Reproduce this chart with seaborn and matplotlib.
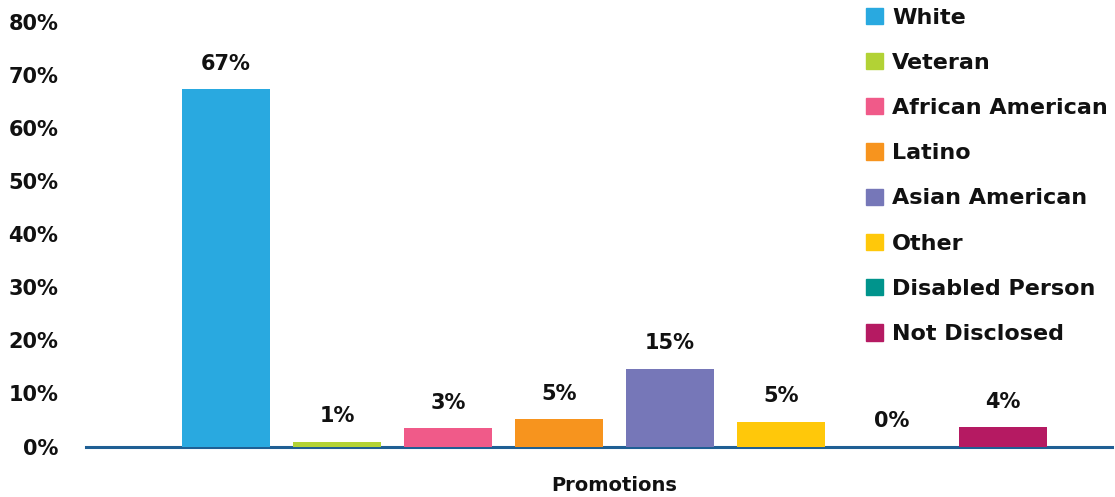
import matplotlib
matplotlib.use("Agg")
import matplotlib.pyplot as plt
import matplotlib.patches as mpatches
import seaborn as sns
import pandas as pd

# Share of promotions by group (percent)
groups = ["White", "Veteran", "African American", "Latino",
          "Asian American", "Other", "Disabled Person", "Not Disclosed"]
values = [67.4, 0.9, 3.4, 5.1, 14.7, 4.7, 0.0, 3.6]
category = ["Promotions"] * len(groups)
colors = ["#29A9E0", "#B2D235", "#F05A89", "#F7941E",
          "#7677B8", "#FFC80A", "#00948C", "#B51A62"]
y_ticks = [0, 10, 20, 30, 40, 50, 60, 70, 80]

df = pd.DataFrame({"category": category, "group": groups, "value": values})

sns.set_theme(style="white")
plt.rcParams["font.family"] = ["DejaVu Sans"]
plt.rcParams["font.weight"] = "bold"

fig = plt.figure(figsize=(11.15, 4.97), dpi=100)
ax = fig.add_axes([0.0771, 0.1016, 0.9202, 0.8541])

palette = dict(zip(groups, colors))
sns.barplot(data=df, x="category", y="value", hue="group", hue_order=groups,
            palette=palette, width=0.8, gap=0.21, saturation=1,
            linewidth=0, edgecolor="none", legend=False, ax=ax)

for cont in ax.containers:
    ax.bar_label(cont, labels=[f"{v:.0f}%" for v in cont.datavalues],
                 padding=11, fontsize=15, fontweight="bold", color="#111111")

ax.set_ylim(0, 80)
ax.set_xlim(-0.476, 0.448)
ax.set_yticks(y_ticks)
ax.set_yticklabels([f"{t}%" for t in y_ticks])
ax.tick_params(axis="y", length=0, pad=20, labelsize=15, labelcolor="#111111")
ax.tick_params(axis="x", length=0, pad=21, labelsize=14, labelcolor="#111111")
ax.set_xlabel("")
ax.set_ylabel("")

for side in ["left", "right", "top"]:
    ax.spines[side].set_visible(False)
ax.spines["bottom"].set_color("#1F5F94")
ax.spines["bottom"].set_linewidth(2.2)
ax.spines["bottom"].set_zorder(0.5)

handles = [mpatches.Patch(color=c, label=g) for g, c in zip(groups, colors)]
leg = ax.legend(handles=handles, loc="upper left", bbox_to_anchor=(0.752, 1.055),
                frameon=False, fontsize=16, handlelength=0.75, handleheight=0.75,
                handletextpad=0.4, labelspacing=1.135, borderaxespad=0)
for t in leg.get_texts():
    t.set_color("#111111")
    t.set_fontweight("bold")

fig.savefig("out.png", dpi=100)
